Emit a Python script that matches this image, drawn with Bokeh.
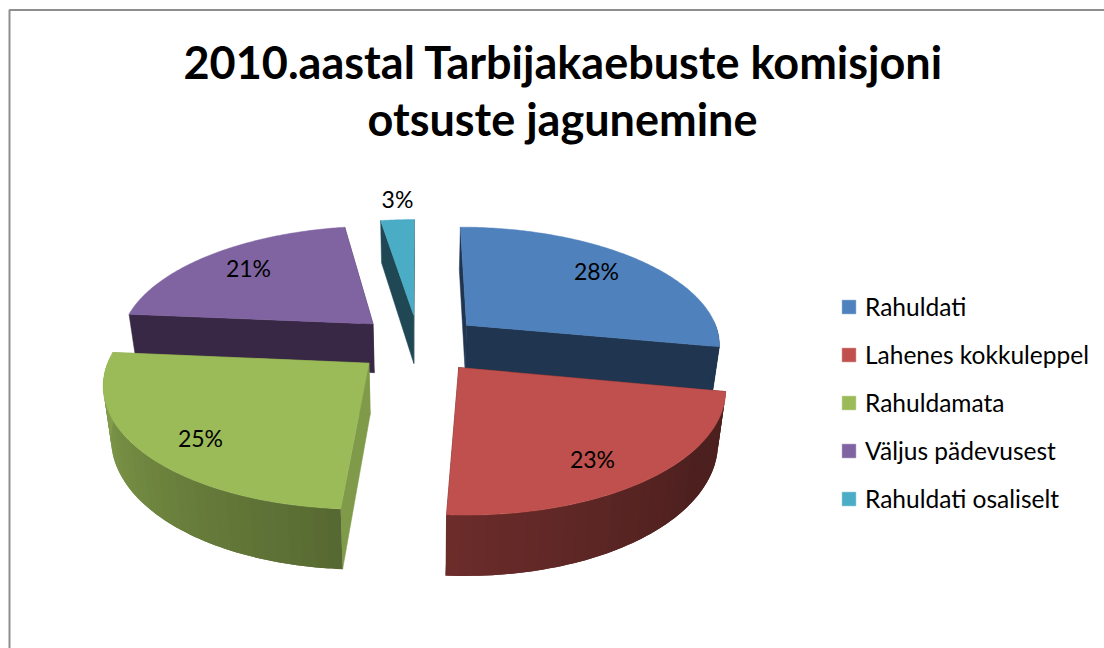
import math
from bokeh.core.properties import value
from bokeh.embed import file_html
from bokeh.models import Legend, LegendItem, Range1d
from bokeh.plotting import figure
from bokeh.resources import INLINE

categories = ["Rahuldati", "Lahenes kokkuleppel", "Rahuldamata", "Väljus pädevusest", "Rahuldati osaliselt"]
shares = [28.0, 23.0, 25.4, 21.1, 2.5]
share_labels = ["28%", "23%", "25%", "21%", "3%"]
top_colors = ["#4F81BD", "#C0504D", "#9BBB59", "#8064A2", "#4BACC6"]
flat_sides = ["#1F3550", None, "#7F9A48", "#382845", "#1F4854"]
title_lines = ["2010.aastal Tarbijakaebuste komisjoni", "otsuste jagunemine"]
label_x = [596, 592, 200, 248, 397]
label_y = [270, 458, 437, 267, 198]
FONT = value("Lato")

CX, CY, RX, RY, K, DEPTH, EXPLODE, BOTTOM_X = 418, 343, 255, 117.7, 0.149, 50, 0.25, 0.975

p = figure(width=1104, height=648, output_backend="svg", toolbar_location=None,
           x_range=Range1d(0, 1104), y_range=Range1d(648, 0), min_border=0)
p.axis.visible = False
p.grid.visible = False
p.outline_line_color = None
p.background_fill_color = "white"
p.border_fill_color = "white"


def project(X, Y, drop=False):
    w = 1 / (1 - K * Y)
    if drop:
        return CX + RX * X * w * BOTTOM_X, CY + RY * Y * w + DEPTH * w
    return CX + RX * X * w, CY + RY * Y * w


def shade(hex_color, f):
    rgb = [int(hex_color[i:i + 2], 16) for i in (1, 3, 5)]
    return "#%02x%02x%02x" % tuple(min(255, int(c * f)) for c in rgb)


def side_factor(deg):
    pts = [(90, 0.40), (125, 0.40), (183, 0.56), (230, 0.72), (274, 0.88), (360, 0.88)]
    for (a0, f0), (a1, f1) in zip(pts, pts[1:]):
        if a0 <= deg <= a1:
            return f0 + (f1 - f0) * (deg - a0) / (a1 - a0)
    return 0.4


slices = []
acc = 0
for i, s in enumerate(shares):
    a0 = acc / 100 * 2 * math.pi
    acc += s
    a1 = acc / 100 * 2 * math.pi
    mid = (a0 + a1) / 2
    slices.append((i, a0, a1, EXPLODE * math.sin(mid), -EXPLODE * math.cos(mid)))

tops = {}
for i, a0, a1, ox, oy in sorted(slices, key=lambda t: t[4]):
    for a in (a0, a1):
        ex, ey = ox + math.sin(a), oy - math.cos(a)
        q = [project(ox, oy), project(ex, ey), project(ex, ey, True), project(ox, oy, True)]
        col = flat_sides[i] or shade(top_colors[i], 0.40)
        p.patch([c[0] for c in q], [c[1] for c in q], fill_color=col, line_color=col, line_width=0.5)
    # outer rim: overlapping strips painted in order, so no seams show
    n = max(2, int((a1 - a0) / math.radians(2.5)))
    step = (a1 - a0) / n
    for j in range(n):
        t0 = a0 + step * j
        t1 = min(a1, t0 + 2 * step)
        if math.cos(t0 + step / 2) > 0.02:
            continue
        deg = math.degrees(t0 + step / 2)
        col = flat_sides[i] if i in (0, 3, 4) else shade(top_colors[i], side_factor(deg))
        rim = [(ox + math.sin(t0 + (t1 - t0) * m / 4), oy - math.cos(t0 + (t1 - t0) * m / 4)) for m in range(5)]
        q = [project(*e) for e in rim] + [project(*e, True) for e in reversed(rim)]
        p.patch([c[0] for c in q], [c[1] for c in q], fill_color=col, line_color=None)
    pts = [project(ox, oy)]
    for j in range(121):
        t = a0 + (a1 - a0) * j / 120
        pts.append(project(ox + math.sin(t), oy - math.cos(t)))
    tops[i] = p.patch([c[0] for c in pts], [c[1] for c in pts], fill_color=top_colors[i],
                      line_color=top_colors[i], line_width=0.5)

p.line([9, 9, 1104], [648, 9.5, 9.5], line_color="#8E8E8E", line_width=2)

p.text([563, 562], [61, 118], text=title_lines, text_font=FONT, text_font_style="bold",
       text_font_size="45px", text_align="center", text_baseline="middle", text_color="black")
p.text(label_x, label_y, text=share_labels, text_font=FONT, text_font_size="23px",
       text_align="center", text_baseline="middle", text_color="black")

legend = Legend(items=[LegendItem(label=c, renderers=[tops[i]]) for i, c in enumerate(categories)],
                location=(840, 135), orientation="vertical", spacing=19, padding=0, margin=0,
                glyph_width=17, glyph_height=17, label_standoff=8, label_height=24,
                label_text_font="Lato", label_text_font_size="24.5px", label_text_color="black",
                background_fill_alpha=0, border_line_color=None)
p.add_layout(legend, "center")

open("out.html", "w").write(file_html(p, INLINE))
